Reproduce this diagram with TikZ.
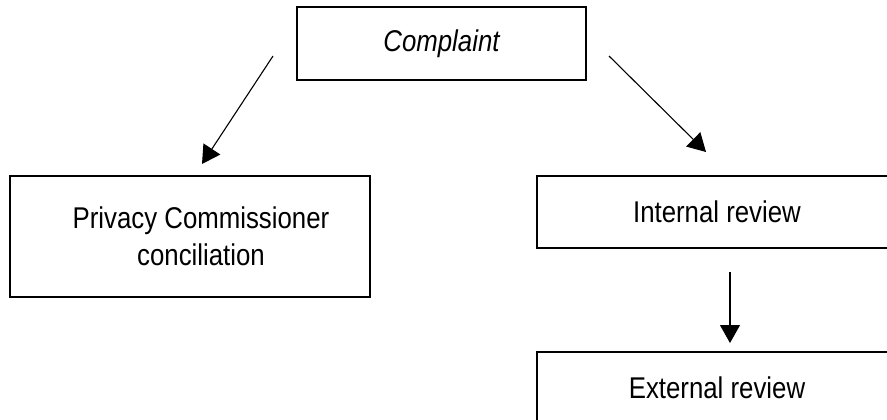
\documentclass[tikz,border=0pt]{standalone}
\usepackage{fontspec}
\setmainfont[FakeStretch=0.86]{Liberation Sans}
\usepackage{tikz}
\usetikzlibrary{positioning,arrows.meta}
\tikzset{
    flow box/.style={
        rectangle,
        draw=black,
        line width=1.6pt,
        fill=none,
        inner sep=0pt,
        align=center,
        font=\fontsize{30}{37}\selectfont,
    },
    flow arrow/.style={
        -{Triangle[length=18pt,width=20pt]},
        line width=1.1pt,
    },
}

\begin{document}
\begin{tikzpicture}[x=1pt,y=-1pt]
    \useasboundingbox (0,0) rectangle (887,420);
    \clip (0,0) rectangle (887,420);

    %Boxes of the complaint flow (right boxes run off the page)
    \node[flow box,minimum width=289pt,minimum height=73pt] (complaint) at (441.5,43.5) {\itshape Complaint};
    \node[flow box,minimum width=360pt,minimum height=121pt] (privacy) at (190,236.5) {\hspace*{22pt}Privacy Commissioner\\\hspace*{22pt}conciliation};
    \node[flow box,minimum width=420pt,minimum height=72pt] (internal) at (747,212) {Internal review\hspace*{60pt}};
    \node[flow box,minimum width=420pt,minimum height=72pt] (external) at (747,388) {External review\hspace*{60pt}};

    %Free ends of the arrows
    \coordinate (privacy-from) at (273,56);
    \coordinate (privacy-to) at (202,164);
    \coordinate (internal-from) at (609,56);
    \coordinate (internal-to) at (706,152);
    \coordinate (external-from) at (730,272);
    \coordinate (external-to) at (730,343);

    \draw[flow arrow] (privacy-from) -- (privacy-to);
    \draw[flow arrow] (internal-from) -- (internal-to);
    \draw[flow arrow] (external-from) -- (external-to);
\end{tikzpicture}
\end{document}
